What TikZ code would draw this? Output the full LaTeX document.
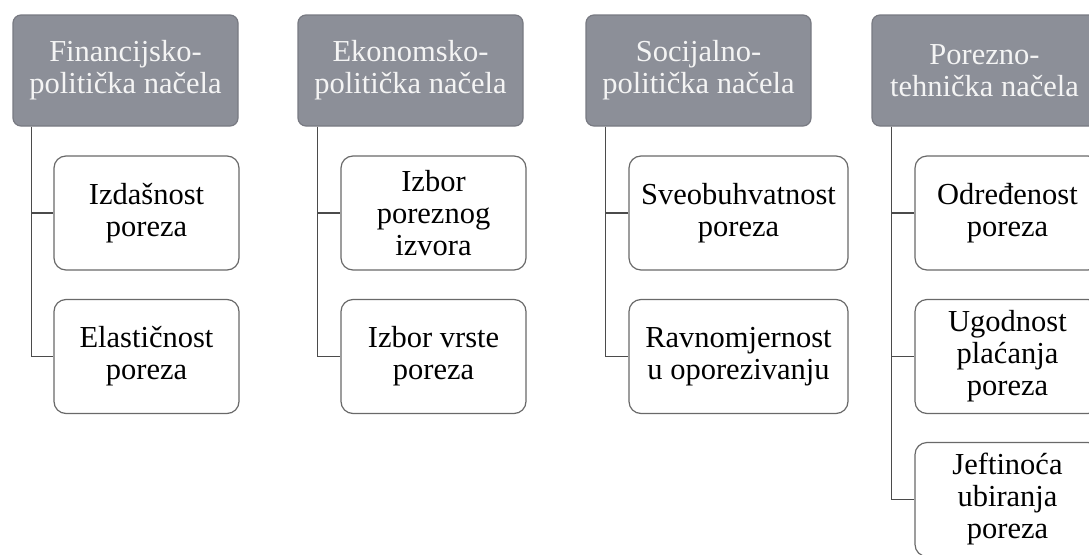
\documentclass[tikz,border=0pt]{standalone}
\usepackage{fontspec}
\setmainfont{Liberation Serif}
\definecolor{hdrfill}{RGB}{140,143,152}
\definecolor{hdrline}{RGB}{120,122,130}
\definecolor{boxline}{RGB}{105,105,105}
\definecolor{conn}{RGB}{75,75,75}
\definecolor{hdrtext}{RGB}{244,244,244}
\begin{document}
\begin{tikzpicture}[x=1pt,y=-1pt,
  hdr/.style={draw=hdrline, line width=1.2pt, fill=hdrfill, rounded corners=8pt,
    minimum width=225pt, minimum height=111pt, inner sep=0pt, align=center,
    text=hdrtext, font=\fontsize{30.5}{32}\selectfont},
  kid/.style={draw=boxline, line width=1.2pt, fill=white, rounded corners=12pt,
    minimum width=185pt, minimum height=114pt, inner sep=0pt, align=center,
    text=black, font=\fontsize{30.5}{32}\selectfont},
  conn/.style={draw=conn, line width=1.3pt}]
\useasboundingbox (0,0) rectangle (1089,554);
\clip (0,0) rectangle (1089,554);
% headers
\node[hdr] (h1) at (125.5,70.5) {Financijsko-\\politička načela};
\node[hdr] (h2) at (410.5,70.5) {Ekonomsko-\\politička načela};
\node[hdr] (h3) at (698.5,70.5) {Socijalno-\\politička načela};
\node[hdr] (h4) at (984.5,70.5) {Porezno-\\tehnička načela};
% children
\node[kid] (c11) at (146.5,213) {Izdašnost\\poreza};
\node[kid] (c12) at (146.5,356.5) {Elastičnost\\poreza};
\node[kid] (c21) at (433.5,213) {Izbor\\poreznog\\izvora};
\node[kid] (c22) at (433.5,356.5) {Izbor vrste\\poreza};
\node[kid, minimum width=219pt] (c31) at (738.5,213) {Sveobuhvatnost\\poreza};
\node[kid, minimum width=219pt] (c32) at (738.5,356.5) {Ravnomjernost\\u oporezivanju};
\node[kid] (c41) at (1007.5,213) {Određenost\\poreza};
\node[kid] (c42) at (1007.5,356.5) {Ugodnost\\plaćanja\\poreza};
\node[kid] (c43) at (1007.5,499.5) {Jeftinoća\\ubiranja\\poreza};
% connectors
\draw[conn] ([xshift=19pt]h1.south west) |- (c11.west);
\draw[conn] ([xshift=19pt]h1.south west) |- (c12.west);
\draw[conn] ([xshift=20pt]h2.south west) |- (c21.west);
\draw[conn] ([xshift=20pt]h2.south west) |- (c22.west);
\draw[conn] ([xshift=20pt]h3.south west) |- (c31.west);
\draw[conn] ([xshift=20pt]h3.south west) |- (c32.west);
\draw[conn] ([xshift=20pt]h4.south west) |- (c41.west);
\draw[conn] ([xshift=20pt]h4.south west) |- (c42.west);
\draw[conn] ([xshift=20pt]h4.south west) |- (c43.west);
\end{tikzpicture}
\end{document}
